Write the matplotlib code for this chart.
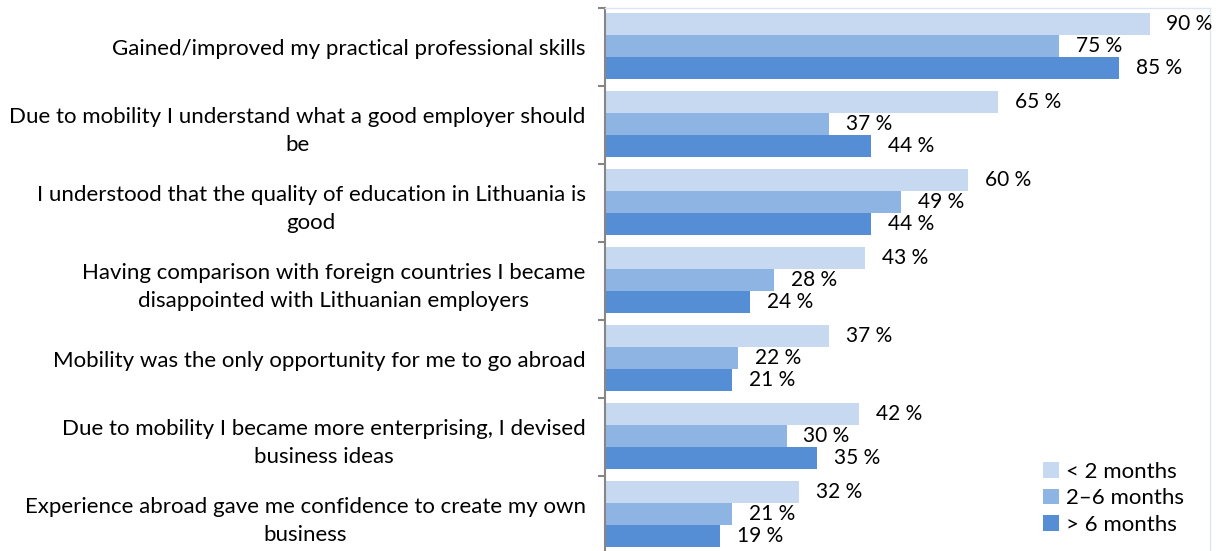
import numpy as np
import matplotlib
matplotlib.use('Agg')
from matplotlib import pyplot as plt

# veriler
categories = [
    'Gained/improved my practical professional skills',
    'Due to mobility I understand what a good employer should\nbe',
    'I understood that the quality of education in Lithuania is\ngood',
    'Having comparison with foreign countries I became\ndisappointed with Lithuanian employers',
    'Mobility was the only opportunity for me to go abroad',
    'Due to mobility I became more enterprising, I devised\nbusiness ideas',
    'Experience abroad gave me confidence to create my own\nbusiness',
]
series_names = ['< 2 months', '2\u20136 months', '> 6 months']
under_2 = [90, 65, 60, 43, 37, 42, 32]
from_2_to_6 = [75, 37, 49, 28, 22, 30, 21]
over_6 = [85, 44, 44, 24, 21, 35, 19]

colors = ['#C6D9F1', '#8EB4E3', '#558ED5']

plt.rcParams['font.family'] = ['Lato', 'DejaVu Sans']
plt.rcParams['font.size'] = 15

W, H = 1220, 551
fig = plt.figure(figsize=(W / 100, H / 100), dpi=100)
# eksen alanı piksel olarak: sol 605, sag 1210, ust 8, 7 kategori x 78 px
left, right, top = 605, 1210, 8
height_px = 7 * 78
ax = fig.add_axes([left / W, 1 - (top + height_px) / H, (right - left) / W, height_px / H])

y = np.arange(len(categories))
bh = 0.282
for k, vals in enumerate([under_2, from_2_to_6, over_6]):
    pos = y + (k - 1) * bh - 0.012
    ax.barh(pos, vals, height=bh, color=colors[k], label=series_names[k])
    for p, v in zip(pos, vals):
        ax.text(v + 2.8, p, f'{v} %', va='center', ha='left', fontsize=15)

ax.set_xlim(0, 100)
ax.set_ylim(len(categories) - 0.5, -0.5)
ax.set_xticks([])
ax.set_yticks(y)
ax.set_yticklabels(categories, ha='right', multialignment='center', fontsize=16, linespacing=1.5)
ax.tick_params(axis='y', which='major', length=0, pad=14)
ax.set_yticks(np.arange(len(categories) + 1) - 0.5, minor=True)
ax.tick_params(axis='y', which='minor', length=5, width=1.5, color='#868686')

ax.spines['left'].set_color('#868686')
ax.spines['left'].set_linewidth(1.5)
for s in ['top', 'right', 'bottom']:
    ax.spines[s].set_color('#DCE6F2')
    ax.spines[s].set_linewidth(1)

fig.legend(loc='lower left', bbox_to_anchor=(1043 / W, 1 - 535 / H), frameon=False,
           handlelength=0.7, handleheight=0.7, handletextpad=0.35, labelspacing=0.3,
           borderaxespad=0, borderpad=0, fontsize=16)

fig.savefig('out.png', dpi=100)
